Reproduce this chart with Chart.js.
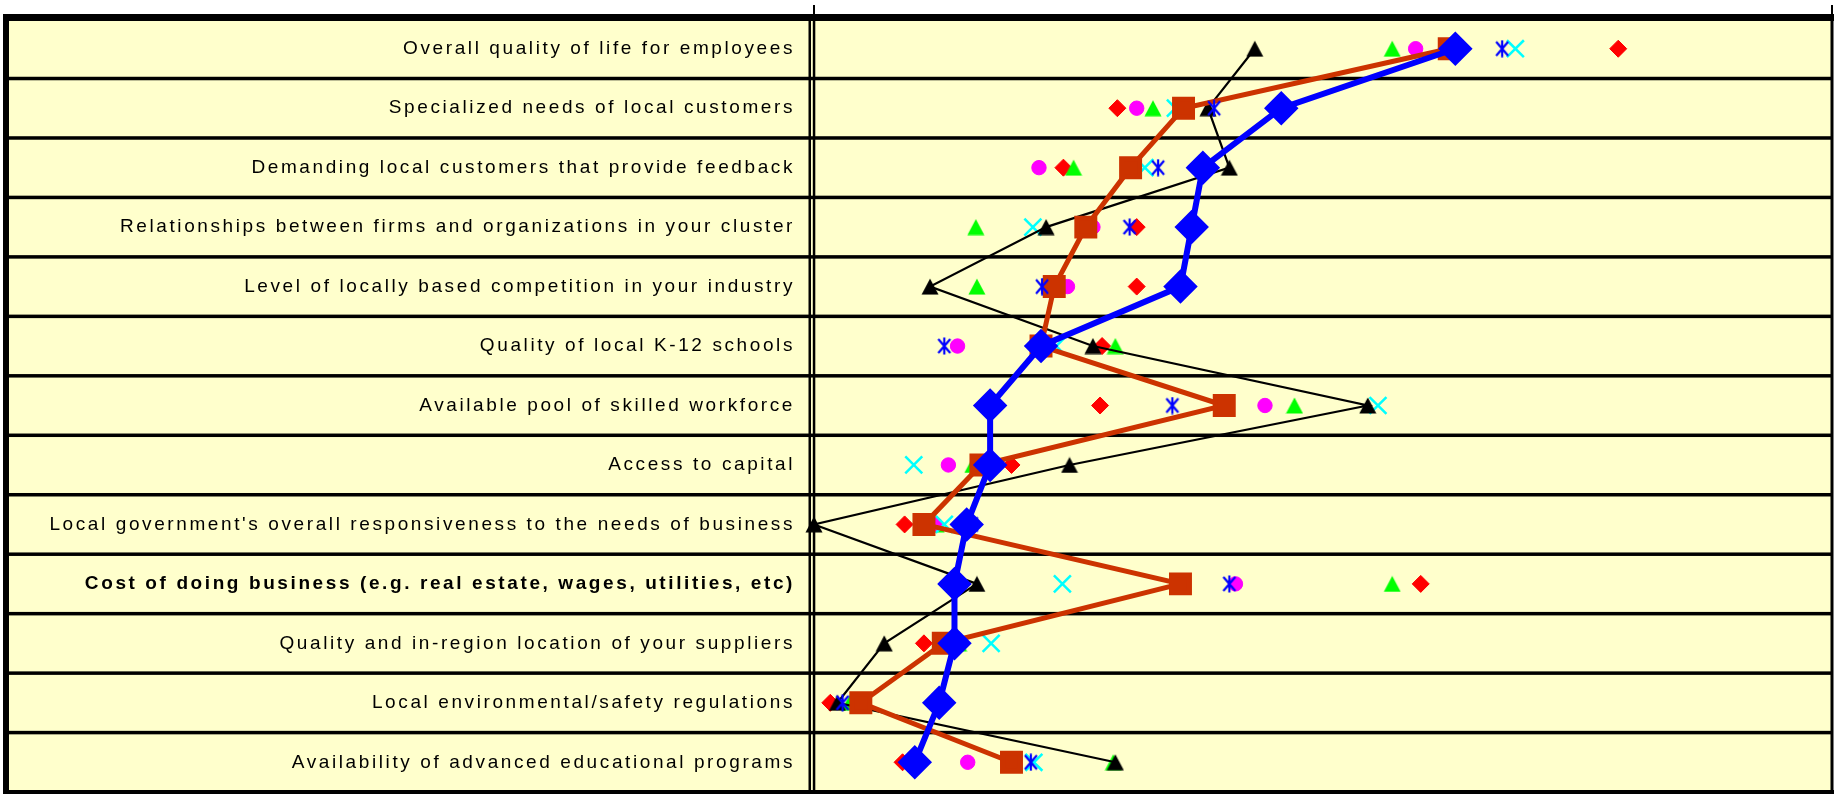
<!DOCTYPE html>
<html>
<head>
<meta charset="utf-8">
<script src="https://cdn.jsdelivr.net/npm/chart.js@4.4.1/dist/chart.umd.min.js"></script>
<style>
  html, body { margin: 0; padding: 0; background: #fff; }
  canvas { display: block; }
</style>
</head>
<body>
<canvas id="chart" width="1838" height="795"></canvas>
<script>
// factors, top to bottom
const categories = [
  'Overall quality of life for employees',
  'Specialized needs of local customers',
  'Demanding local customers that provide feedback',
  'Relationships between firms and organizations in your cluster',
  'Level of locally based competition in your industry',
  'Quality of local K-12 schools',
  'Available pool of skilled workforce',
  'Access to capital',
  "Local government's overall responsiveness to the needs of business",
  'Cost of doing business (e.g. real estate, wages, utilities, etc)',
  'Quality and in-region location of your suppliers',
  'Local environmental/safety regulations',
  'Availability of advanced educational programs'
];
const boldCategory = 'Cost of doing business (e.g. real estate, wages, utilities, etc)';

// x axis runs from min to max, only the two end ticks are marked
const xTicks = [0, 100];

// series values, one per factor
const blueDiamonds  = [63.0, 45.9, 38.2, 37.1, 36.0, 22.3, 17.3, 17.3, 15.0, 13.8, 13.8, 12.3, 9.9];
const orangeSquares = [62.4, 36.3, 31.1, 26.7, 23.6, 22.3, 40.3, 16.4, 10.8, 36.0, 12.7, 4.6, 19.4];
const blackTriangles = [43.3, 38.7, 40.8, 22.8, 11.4, 27.4, 54.4, 25.1, 0.0, 16.0, 6.9, 2.3, 29.6];
const greenTriangles = [56.8, 33.3, 25.5, 15.9, 16.0, 29.6, 47.2, 15.6, 12.0, 56.8, 14.2, 3.5, 29.4];
const magentaCircles = [59.1, 31.7, 22.1, 27.4, 24.9, 14.1, 44.3, 13.2, 11.9, 41.4, 13.9, 4.4, 15.1];
const redDiamonds   = [79.0, 29.8, 24.5, 31.7, 31.7, 28.3, 28.1, 19.4, 8.9, 59.6, 10.8, 1.6, 8.7];
const cyanCrosses   = [68.9, 35.5, 32.5, 21.5, 23.3, 23.8, 55.4, 9.8, 12.8, 24.4, 17.4, 4.8, 21.6];
const blueAsterisks = [67.6, 39.3, 33.8, 31.0, 22.4, 12.8, 35.2, 17.2, 15.5, 40.8, 13.8, 2.8, 21.3];

const YELLOW = '#FFFFCC';
const SPACING = '2.6px';

// six armed asterisk marker (X plus a vertical bar)
function asteriskMarker(color) {
  const c = document.createElement('canvas');
  c.width = 18; c.height = 18;
  const g = c.getContext('2d');
  g.strokeStyle = color;
  g.lineWidth = 2.2;
  g.beginPath();
  g.moveTo(3, 2); g.lineTo(15, 16);
  g.moveTo(15, 2); g.lineTo(3, 16);
  g.moveTo(9, 0.5); g.lineTo(9, 17.5);
  g.stroke();
  return c;
}

// triangle whose box is centred on the point
function triangleMarker(color) {
  const c = document.createElement('canvas');
  c.width = 18; c.height = 17;
  const g = c.getContext('2d');
  g.fillStyle = color;
  g.beginPath();
  g.moveTo(9, 0.5); g.lineTo(17.5, 16.5); g.lineTo(0.5, 16.5);
  g.closePath();
  g.fill();
  return c;
}

function markers(label, data, color, style, radius, extra) {
  return Object.assign({
    label: label,
    data: data,
    showLine: false,
    pointStyle: style,
    pointRadius: radius,
    pointHoverRadius: radius,
    pointBackgroundColor: color,
    pointBorderColor: color,
    pointBorderWidth: 1,
    borderColor: color,
    backgroundColor: color,
    clip: false
  }, extra || {});
}

const framePlugin = {
  id: 'frame',
  beforeLayout(chart) { chart.ctx.letterSpacing = SPACING; },
  beforeDraw(chart) {
    const ctx = chart.ctx;
    ctx.letterSpacing = SPACING;
    const a = chart.chartArea;
    ctx.save();
    ctx.fillStyle = YELLOW;
    ctx.fillRect(3, a.top - 4, a.right - 3, a.bottom - a.top + 4);
    ctx.restore();
  },
  beforeDatasetsDraw(chart) {
    const ctx = chart.ctx;
    const a = chart.chartArea;
    const y = chart.scales.y;
    const half = (y.getPixelForValue(1) - y.getPixelForValue(0)) / 2;
    ctx.save();
    ctx.fillStyle = '#000';
    // row separators
    for (let i = 1; i < categories.length; i++) {
      const py = y.getPixelForValue(i) - half;
      ctx.fillRect(3, py - 1.7, a.right - 3, 3.5);
    }
    // outer frame
    ctx.fillRect(3, a.top - 5, a.right - 1, 7);      // top
    ctx.fillRect(3, a.bottom - 2, a.right - 1, 4);   // bottom
    ctx.fillRect(3, a.top - 5, 6, a.bottom - a.top + 7); // left
    ctx.fillRect(a.right - 1.5, a.top - 5, 3, a.bottom - a.top + 7); // right
    // double divider between labels and plot
    ctx.fillRect(a.left - 5.5, a.top - 5, 2.5, a.bottom - a.top + 7);
    ctx.fillRect(a.left - 1.2, a.top - 5, 2.5, a.bottom - a.top + 7);
    ctx.restore();
  }
};

new Chart(document.getElementById('chart'), {
  type: 'line',
  data: {
    labels: categories,
    // first dataset is painted last (on top)
    datasets: [
      {
        label: 'Average (blue)',
        data: blueDiamonds,
        borderColor: '#0000FF',
        backgroundColor: '#0000FF',
        borderWidth: 6,
        pointStyle: 'rectRot',
        pointRadius: 13,
        pointHoverRadius: 13,
        pointBackgroundColor: '#0000FF',
        pointBorderColor: '#0000FF',
        tension: 0,
        clip: false
      },
      markers('Series asterisk', blueAsterisks, '#0000FF', asteriskMarker('#0000FF'), 9),
      {
        label: 'Average (orange)',
        data: orangeSquares,
        borderColor: '#CC3300',
        backgroundColor: '#CC3300',
        borderWidth: 5,
        pointStyle: 'rect',
        pointRadius: 12.7,
        pointHoverRadius: 12.7,
        pointBackgroundColor: '#CC3300',
        pointBorderColor: '#CC3300',
        tension: 0,
        clip: false
      },
      {
        label: 'Series black',
        data: blackTriangles,
        borderColor: '#000000',
        backgroundColor: '#000000',
        borderWidth: 2.2,
        pointStyle: triangleMarker('#000000'),
        pointRadius: 9,
        pointHoverRadius: 9,
        tension: 0,
        clip: false
      },
      markers('Series cyan', cyanCrosses, '#00FFFF', 'crossRot', 12, { pointBorderWidth: 2.5 }),
      markers('Series magenta', magentaCircles, '#FF00FF', 'circle', 7.2),
      markers('Series green', greenTriangles, '#00FF00', triangleMarker('#00FF00'), 9),
      markers('Series red', redDiamonds, '#FF0000', 'rectRot', 8.5)
    ]
  },
  options: {
    indexAxis: 'y',
    responsive: false,
    animation: false,
    devicePixelRatio: 1,
    events: [],
    layout: { autoPadding: false, padding: { top: 5, right: 6, bottom: 3, left: 0 } },
    plugins: {
      legend: { display: false },
      tooltip: { enabled: false }
    },
    scales: {
      x: {
        type: 'linear',
        position: 'top',
        min: xTicks[0],
        max: xTicks[xTicks.length - 1],
        ticks: { display: false, stepSize: xTicks[1] - xTicks[0] },
        grid: { drawOnChartArea: false, drawTicks: true, tickLength: 14, color: '#000', lineWidth: 2 },
        border: { display: false },
        afterFit(scale) { scale.paddingLeft = 0; scale.paddingRight = 0; }
      },
      y: {
        type: 'category',
        offset: true,
        grid: { display: false, drawTicks: false },
        border: { display: false },
        ticks: {
          autoSkip: false,
          padding: 19,
          color: '#000',
          font: (ctx) => ({
            family: '"Liberation Sans", Arial, sans-serif',
            size: 19,
            weight: (ctx.tick && ctx.tick.label === boldCategory) ? 'bold' : 'normal'
          })
        },
        afterFit(scale) {
          scale.width = 814;
          scale.paddingTop = 0;
          scale.paddingBottom = 0;
        }
      }
    }
  },
  plugins: [framePlugin]
});
</script>
</body>
</html>
